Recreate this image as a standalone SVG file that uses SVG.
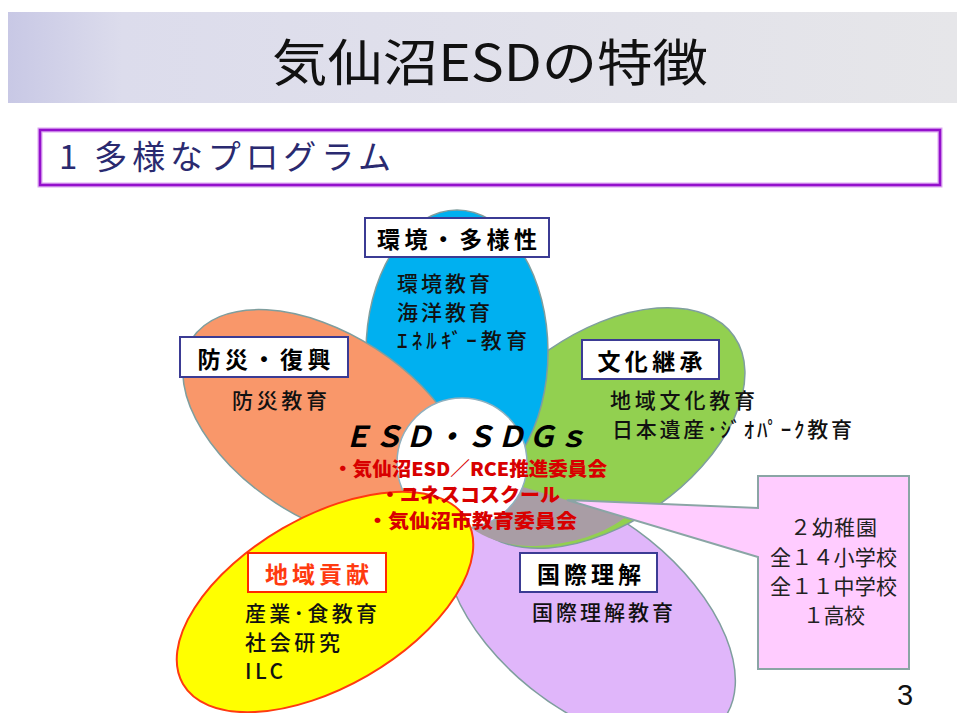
<svg xmlns="http://www.w3.org/2000/svg" width="957" height="713" viewBox="0 0 957 713">
<defs>
<linearGradient id="tg" x1="0" y1="0" x2="1" y2="0">
<stop offset="0" stop-color="#c8c8e5"/>
<stop offset="0.12" stop-color="#dcdcec"/>
<stop offset="1" stop-color="#e6e6e9"/>
</linearGradient>
</defs>
<style>
text{font-family:"Noto Sans CJK JP","Noto Sans CJK SC",sans-serif}
.petal{stroke:#7f9e9e;stroke-width:1.5}
.lab{fill:#ffffff;stroke:#3b3b94;stroke-width:2}
.lt{font-weight:700;font-size:23px;fill:#000000;text-anchor:middle}
.ct{font-size:21px;font-weight:500;fill:#111111}
.rt{font-weight:900;font-size:19px;fill:#d80000}
.pt{font-size:21px;fill:#222222}
</style>
<rect x="0" y="0" width="957" height="713" fill="#ffffff"/>
<g id="title">
<rect x="8" y="12" width="949" height="91" fill="url(#tg)"/>
<text x="272" y="81" font-size="50" textLength="436" lengthAdjust="spacingAndGlyphs" fill="#111111">気仙沼ESDの特徴</text>
</g>
<g id="subtitle">
<rect x="40" y="130" width="900" height="55" fill="#ffffff" stroke="#dba6f0" stroke-width="5"/>
<rect x="40" y="130" width="900" height="55" fill="none" stroke="#9410cc" stroke-width="2.5"/>
<text x="59" y="169" font-size="33" textLength="332" fill="#2a2a70">1 多様なプログラム</text>
</g>
<g id="petal-purple">
<ellipse class="petal" cx="590" cy="614" rx="170" ry="95" fill="#e0b6fa" transform="rotate(38.7 590 614)"/>
</g>
<g id="petal-green">
<ellipse class="petal" cx="603" cy="428" rx="160" ry="95" fill="#92d050" transform="rotate(-35 603 428)"/>
</g>
<g id="overlap">
<path d="M470,471 L625,517.5 C600,537 562,546 530,546 C500,545 476,535 462,520 Z" fill="#a99da5"/>
</g>
<g id="petal-blue">
<ellipse class="petal" cx="457" cy="352" rx="91" ry="142" fill="#00b0f0"/>
<rect class="lab" x="365" y="218" width="184" height="39"/>
<text class="lt" x="457" y="248" textLength="160">環境・多様性</text>
<text class="ct" x="397" y="291" textLength="93">環境教育</text>
<text class="ct" x="397" y="320" textLength="93">海洋教育</text>
<text class="ct" x="397" y="348" textLength="130">ｴﾈﾙｷﾞｰ教育</text>
</g>
<g id="petal-orange">
<ellipse class="petal" cx="326" cy="426" rx="160" ry="92" fill="#f9976a" transform="rotate(33 326 426)"/>
<rect class="lab" x="180" y="337" width="168" height="40"/>
<text class="lt" x="264" y="368" textLength="133">防災・復興</text>
<text class="ct" x="232" y="408" textLength="95">防災教育</text>
</g>
<g id="green-text">
<rect class="lab" x="582" y="340" width="137" height="39"/>
<text class="lt" x="650" y="370" textLength="105">文化継承</text>
<text class="ct" x="610" y="408" textLength="145">地域文化教育</text>
<text class="ct" x="612" y="437" textLength="240">日本遺産･ｼﾞｵﾊﾟｰｸ教育</text>
</g>
<g id="center">
<circle cx="462" cy="463" r="65" fill="#ffffff" stroke="#8fb0bf" stroke-width="1.5"/>
</g>
<g id="petal-yellow">
<ellipse cx="325" cy="602" rx="164" ry="85" fill="#ffff00" stroke="#ff3a10" stroke-width="2" transform="rotate(-30 325 602)"/>
<rect x="248" y="553" width="138" height="39" fill="#ffffff" stroke="#ff2a00" stroke-width="2"/>
<text class="lt" x="317" y="583" textLength="104" style="fill:#ff3a10">地域貢献</text>
<text class="ct" x="245" y="621" textLength="132">産業･食教育</text>
<text class="ct" x="245" y="650" textLength="95">社会研究</text>
<text class="ct" x="245" y="679" textLength="38">ILC</text>
</g>
<g id="purple-text">
<rect class="lab" x="520" y="553" width="137" height="39"/>
<text class="lt" x="589" y="583" textLength="104">国際理解</text>
<text class="ct" x="532" y="620" textLength="141">国際理解教育</text>
</g>
<g id="callout">
<path d="M758,476 L909,476 L909,669 L758,669 L758,557 L567,500 L758,508 Z" fill="#ffccff" stroke="#8aa5a5" stroke-width="2" stroke-linejoin="miter"/>
<text class="pt" x="790" y="535" textLength="87">２幼稚園</text>
<text class="pt" x="770" y="565" textLength="127">全１４小学校</text>
<text class="pt" x="770" y="594" textLength="127">全１１中学校</text>
<text class="pt" x="803" y="623" textLength="62">１高校</text>
</g>
<g id="center-text">
<text x="343" y="447" font-size="29" font-weight="700" font-style="italic" textLength="244" fill="#000000">ＥＳＤ・ＳＤＧｓ</text>
<text class="rt" x="333" y="476" textLength="274" lengthAdjust="spacingAndGlyphs">・気仙沼ESD／RCE推進委員会</text>
<text class="rt" x="380" y="502" textLength="180" lengthAdjust="spacingAndGlyphs">・ユネスコスクール</text>
<text class="rt" x="367" y="528" textLength="210" lengthAdjust="spacingAndGlyphs">・気仙沼市教育委員会</text>
</g>
<g id="page">
<text x="897" y="705" font-size="29" fill="#111111" style="font-family:'Liberation Sans',Arial,sans-serif">3</text>
</g>
</svg>
